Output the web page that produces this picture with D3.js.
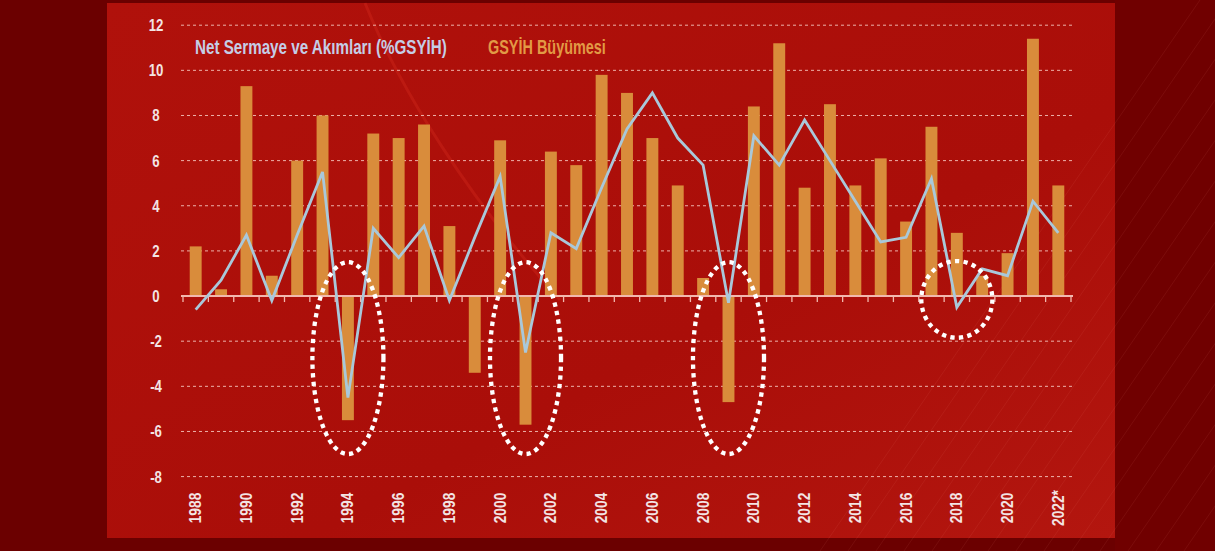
<!DOCTYPE html>
<html><head><meta charset="utf-8">
<script src="https://cdn.jsdelivr.net/npm/d3@7"></script>
<style>
body{margin:0;background:#6b0000;}
svg{display:block;}
text{font-family:"Liberation Sans",Arial,sans-serif;font-weight:bold;}
</style></head>
<body>
<svg id="chart" width="1215" height="551"></svg>
<script>
const years = ["1988","1989","1990","1991","1992","1993","1994","1995","1996","1997","1998","1999","2000","2001","2002","2003","2004","2005","2006","2007","2008","2009","2010","2011","2012","2013","2014","2015","2016","2017","2018","2019","2020","2021","2022*"];
const gdpGrowth = [2.2,0.3,9.3,0.9,6.0,8.0,-5.5,7.2,7.0,7.6,3.1,-3.4,6.9,-5.7,6.4,5.8,9.8,9.0,7.0,4.9,0.8,-4.7,8.4,11.2,4.8,8.5,4.9,6.1,3.3,7.5,2.8,0.9,1.9,11.4,4.9];
const netCapital = [-0.6,0.7,2.7,-0.2,2.7,5.5,-4.5,3.0,1.7,3.1,-0.2,2.6,5.3,-2.5,2.8,2.1,4.8,7.4,9.0,7.0,5.8,-0.3,7.1,5.8,7.8,6.0,4.2,2.4,2.6,5.2,-0.5,1.2,0.9,4.2,2.8];
const yTicks = [-8,-6,-4,-2,0,2,4,6,8,10,12];
const xLabelYears = ["1988","1990","1992","1994","1996","1998","2000","2002","2004","2006","2008","2010","2012","2014","2016","2018","2020","2022*"];
const seriesNames = ["Net Sermaye ve Akımları (%GSYİH)","GSYİH Büyümesi"];
const highlights = [
  {year:"1994", top:1.5, bottom:-7.0},
  {year:"2001", top:1.5, bottom:-7.0},
  {year:"2009", top:1.5, bottom:-7.0},
  {year:"2018", top:1.55, bottom:-1.85}
];

const svg = d3.select("#chart");
const defs = svg.append("defs");
const g1 = defs.append("linearGradient").attr("id","panelGrad").attr("x1","0").attr("y1","0").attr("x2","1").attr("y2","1");
g1.append("stop").attr("offset","0").attr("stop-color","#b0110b");
g1.append("stop").attr("offset","0.6").attr("stop-color","#aa0e09");
g1.append("stop").attr("offset","1").attr("stop-color","#b3160f");

// background
svg.append("rect").attr("width",1215).attr("height",551).attr("fill","#6b0000");
svg.append("rect").attr("x",1115).attr("y",0).attr("width",100).attr("height",551).attr("fill","#700000");
svg.append("rect").attr("x",107).attr("y",3).attr("width",1008).attr("height",535).attr("fill","url(#panelGrad)");

// decorative faint diagonal streaks
const deco = svg.append("g").attr("opacity",0.08).attr("stroke","#ff9a8a").attr("stroke-width",1);
for(let i=0;i<14;i++){
  const x0 = 820 + i*28;
  deco.append("line").attr("x1",x0).attr("y1",551).attr("x2",x0+380).attr("y2",0);
}
svg.append("path").attr("d","M365,3 C400,90 470,200 560,300")
  .attr("fill","none").attr("stroke","#ff4a30").attr("stroke-width",3).attr("opacity",0.18);

// scales
const x = d3.scaleBand().domain(years).range([183,1071]).padding(0);
const y = d3.scaleLinear().domain([-8,12]).range([476.6,25.2]);
const barW = x.bandwidth()*0.47;
const cx = d => x(d)+x.bandwidth()/2;

// gridlines
svg.append("g").selectAll("line").data(yTicks.filter(t=>t!==0)).join("line")
  .attr("x1",181).attr("x2",1073)
  .attr("y1",d=>y(d)).attr("y2",d=>y(d))
  .attr("stroke","#f4c4bc").attr("stroke-width",1).attr("stroke-dasharray","3,3").attr("opacity",0.9);

// y labels (condensed via horizontal scale)
svg.append("g").selectAll("text").data(yTicks).join("text")
  .attr("transform",d=>`translate(156,${y(d)+6}) scale(0.8,1)`)
  .attr("text-anchor","middle").attr("font-size",16.5).attr("fill","#f3e4e4")
  .text(d=>d);

// bars
svg.append("g").selectAll("rect").data(years).join("rect")
  .attr("x",(d)=>cx(d)-barW/2).attr("width",barW)
  .attr("y",(d,i)=>y(Math.max(0,gdpGrowth[i])))
  .attr("height",(d,i)=>Math.abs(y(gdpGrowth[i])-y(0)))
  .attr("fill","#d98c3b");

// x axis line + ticks
const axisG = svg.append("g");
axisG.append("line").attr("x1",181).attr("x2",1073).attr("y1",y(0)).attr("y2",y(0))
  .attr("stroke","#f2b8ae").attr("stroke-width",2);
const bounds = years.map(d=>x(d)).concat([x(years[years.length-1])+x.bandwidth()]);
axisG.selectAll("line.t").data(bounds).join("line").attr("class","t")
  .attr("x1",d=>d).attr("x2",d=>d).attr("y1",y(0)).attr("y2",y(0)+6)
  .attr("stroke","#f2b8ae").attr("stroke-width",1.3);

// line
const line = d3.line().x((d,i)=>cx(years[i])).y(d=>y(d));
svg.append("path").datum(netCapital).attr("d",line)
  .attr("fill","none").attr("stroke","#a9c8da").attr("stroke-width",2.8).attr("stroke-linejoin","miter");

// highlight ellipses
svg.append("g").selectAll("ellipse").data(highlights).join("ellipse")
  .attr("cx",d=>cx(d.year))
  .attr("cy",d=>(y(d.top)+y(d.bottom))/2)
  .attr("rx",x.bandwidth()*1.4)
  .attr("ry",d=>(y(d.bottom)-y(d.top))/2)
  .attr("fill","none").attr("stroke","#ffffff").attr("stroke-width",4.3)
  .attr("stroke-dasharray","4.3,4.3");

// x labels
svg.append("g").selectAll("text").data(xLabelYears).join("text")
  .attr("transform",d=>`translate(${cx(d)+5.5},508) rotate(-90) scale(0.86,1)`)
  .attr("text-anchor","middle").attr("font-size",16).attr("fill","#f3e4e4")
  .text(d=>d);

// legend (condensed to target widths by horizontal scaling)
const legendItems = [
  {name:seriesNames[0], x:195, w:252, color:"#c5cde6"},
  {name:seriesNames[1], x:488, w:118, color:"#e29a45"}
];
legendItems.forEach(it=>{
  const t = svg.append("text").attr("font-size",19.5).attr("fill",it.color).text(it.name);
  const len = t.node().getComputedTextLength();
  t.attr("transform",`translate(${it.x},54) scale(${it.w/len},1)`);
});
</script>
</body></html>
